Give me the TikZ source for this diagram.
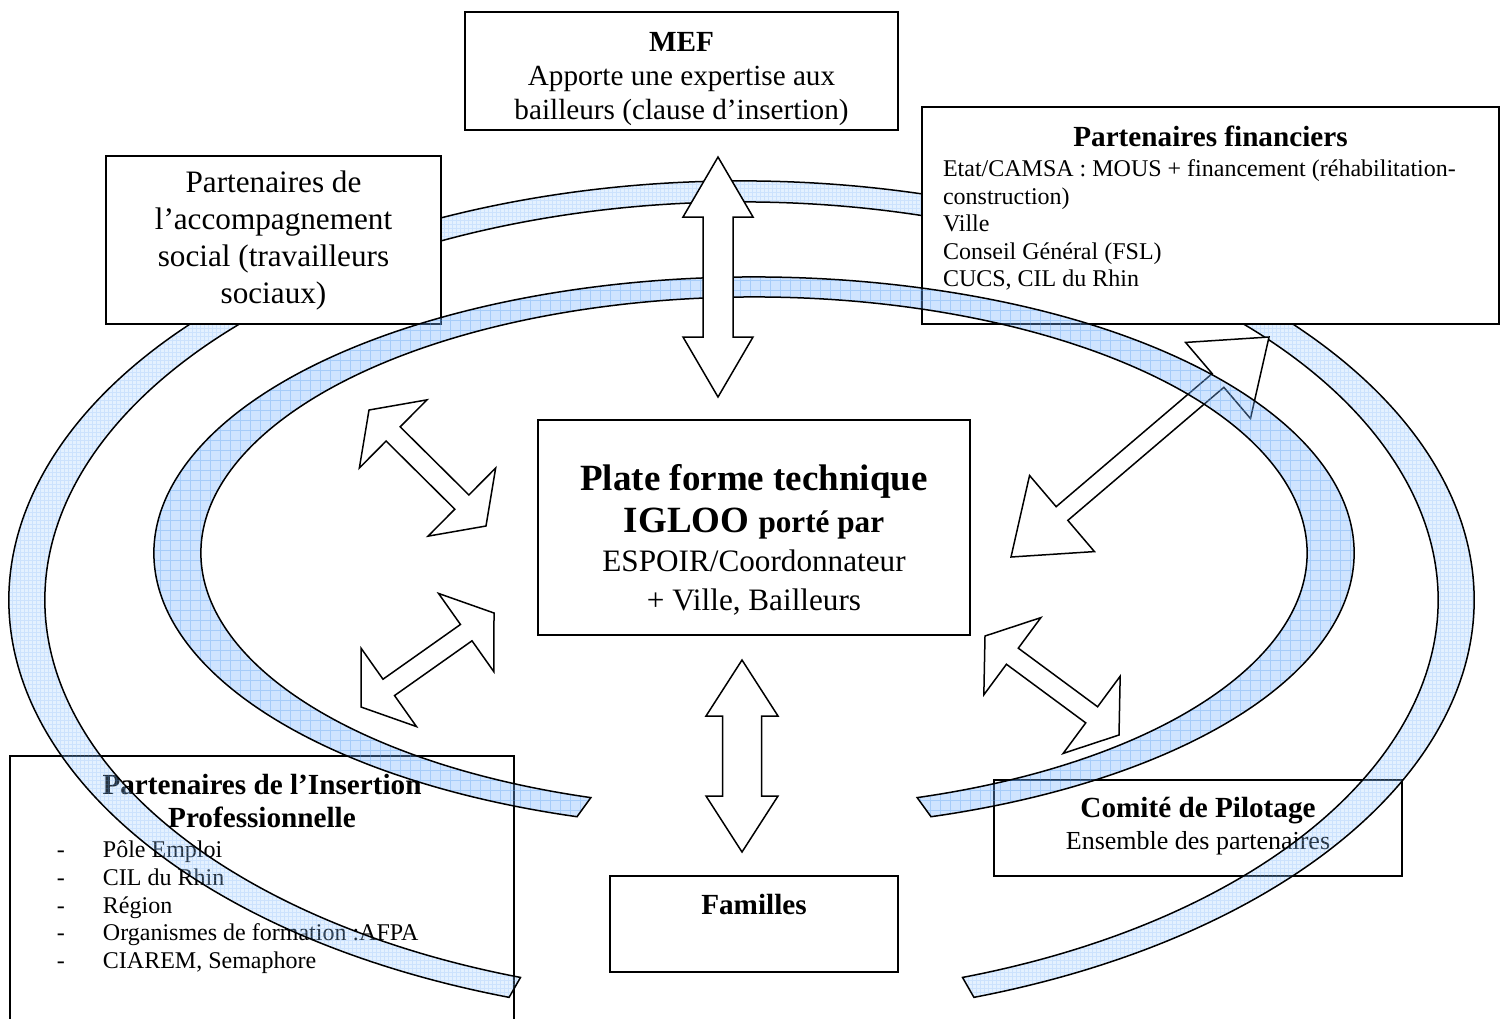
\documentclass[tikz,border=0pt]{standalone}
\usepackage{fontspec}
\setmainfont{Liberation Serif}
\usetikzlibrary{calc}
\definecolor{ringblue}{RGB}{120,180,255}
\definecolor{ringgrid}{RGB}{90,160,240}
\definecolor{ringpale}{RGB}{150,200,255}
\definecolor{ringpalegrid}{RGB}{110,170,245}
\tikzstyle{textbox} = [rectangle, draw, line width=0.9pt, fill=white, inner sep=0pt]
\tikzstyle{blockarrow} = [draw, line width=0.75pt, fill=white, line join=miter]
\tikzstyle{ringline} = [draw, line width=0.75pt]
\tikzstyle{innerfill} = [fill=ringblue, fill opacity=0.35]
\tikzstyle{innergrid} = [draw=ringgrid, draw opacity=0.35, line width=0.3pt]
\tikzstyle{outerfill} = [fill=ringpale, fill opacity=0.25]
\tikzstyle{outergrid} = [draw=ringpalegrid, draw opacity=0.2, line width=0.2pt]
% ring band: kind, centre, outer radii, inner radii, end angles, grid step
\newcommand{\ringband}[9]{%
  \fill[#1fill] (#2) ++(#7:#3 and #4) arc[start angle=#7, end angle=#8, x radius=#3, y radius=#4]
    -- ($(#2)+(#8:#5 and #6)$) arc[start angle=#8, end angle=#7, x radius=#5, y radius=#6] -- cycle;
  \begin{scope}
    \clip (#2) ++(#7:#3 and #4) arc[start angle=#7, end angle=#8, x radius=#3, y radius=#4]
      -- ($(#2)+(#8:#5 and #6)$) arc[start angle=#8, end angle=#7, x radius=#5, y radius=#6] -- cycle;
    \draw[#1grid, step=#9] (0,0) grid (1503,1018);
  \end{scope}
  \path[ringline] (#2) ++(#7:#3 and #4) arc[start angle=#7, end angle=#8, x radius=#3, y radius=#4]
    -- ($(#2)+(#8:#5 and #6)$) arc[start angle=#8, end angle=#7, x radius=#5, y radius=#6] -- cycle;}
% two-way block arrow: ends, head length, head half width, shaft half width
\newcommand{\twoway}[5]{%
  \coordinate (hA) at ($(#1)!#3!(#2)$);
  \coordinate (hB) at ($(#2)!#3!(#1)$);
  \draw[blockarrow] (#1) -- ($(hA)!#4!90:(#2)$) -- ($(hA)!#5!90:(#2)$) -- ($(hB)!#5!-90:(#1)$)
    -- ($(hB)!#4!-90:(#1)$) -- (#2) -- ($(hB)!#4!90:(#1)$) -- ($(hB)!#5!90:(#1)$)
    -- ($(hA)!#5!-90:(#2)$) -- ($(hA)!#4!-90:(#2)$) -- cycle;}
\begin{document}
\begin{tikzpicture}[x=0.5pt, y=-0.5pt]
\clip (0,0) rectangle (1503,1018);
\fill[white] (0,0) rectangle (1503,1018);

% Lower boxes, under the outer ring
\node[textbox, minimum width=252pt, minimum height=142pt] (insertion) at (262,898) {%
\begin{minipage}[c][142pt][t]{252pt}
\vspace*{9.2pt}
{\centering\fontsize{14.6}{16.5}\selectfont\bfseries Partenaires de l’Insertion\\ Professionnelle\par}
\vspace{1.15pt}
\fontsize{12}{13.85}\selectfont
\hspace*{23.5pt}\makebox[23pt][l]{-}Pôle Emploi\\
\hspace*{23.5pt}\makebox[23pt][l]{-}CIL du Rhin\\
\hspace*{23.5pt}\makebox[23pt][l]{-}Région\\
\hspace*{23.5pt}\makebox[23pt][l]{-}Organismes de formation :AFPA\\
\hspace*{23.5pt}\makebox[23pt][l]{-}CIAREM, Semaphore
\end{minipage}};

\node[textbox, minimum width=204pt, minimum height=48pt] (comite) at (1198,828) {%
\begin{minipage}[c][48pt][t]{204pt}
\centering
\vspace*{8.7pt}
{\fontsize{14.6}{16}\selectfont\bfseries Comité de Pilotage\par}
\fontsize{13}{16}\selectfont Ensemble des partenaires
\end{minipage}};

% Outer ring
\coordinate (outerc) at (741.5,600);
\ringband{outer}{outerc}{366.25pt}{209.5pt}{348.25pt}{199pt}{251.5}{-71.5}{2pt}

% Upper boxes
\node[textbox, align=center, minimum width=167.5pt, minimum height=84pt, font=\fontsize{15.6}{18.5}\selectfont] (social) at (273.5,240) {Partenaires de\\ l’accompagnement\\ social (travailleurs\\ sociaux)};

\node[textbox, minimum width=216.5pt, minimum height=59pt] (mef) at (681.5,71) {%
\begin{minipage}[c][59pt][t]{216.5pt}
\centering\fontsize{14.6}{17}\selectfont
\vspace*{10.2pt}
\textbf{MEF}\\ Apporte une expertise aux\\ bailleurs (clause d’insertion)
\end{minipage}};

\node[textbox, minimum width=288.5pt, minimum height=108.5pt] (financ) at (1210.5,215.5) {%
\begin{minipage}[c][108.5pt][t]{267.5pt}
\vspace*{9.7pt}
{\centering\fontsize{14.6}{17}\selectfont\bfseries Partenaires financiers\par}
\vspace{1.25pt}
\fontsize{12}{13.75}\selectfont
Etat/CAMSA : MOUS + financement (réhabilitation-\\
construction)\\
Ville\\
Conseil Général (FSL)\\
CUCS, CIL du Rhin
\end{minipage}};

% Arrow towards the funders, under the inner ring
\coordinate (finA) at (1011,557);
\coordinate (finB) at (1269,337);
\twoway{finA}{finB}{33.5pt}{25pt}{4.5pt}

% Inner ring
\coordinate (innerc) at (754,553);
\ringband{inner}{innerc}{300pt}{138pt}{276.5pt}{128pt}{252.84}{-72.84}{5pt}

% Platform and families
\node[textbox, minimum width=216pt, minimum height=107.5pt] (plateforme) at (754,527.5) {%
\begin{minipage}[c][107.5pt][t]{216pt}
\centering
\vspace*{22.3pt}
{\fontsize{18.5}{21}\selectfont\bfseries Plate forme technique\\ IGLOO {\fontsize{15.6}{21}\selectfont porté par}\par}
\fontsize{15.6}{19.5}\selectfont ESPOIR/Coordonnateur\\ + Ville, Bailleurs
\end{minipage}};

\node[textbox, minimum width=144pt, minimum height=48pt] (familles) at (754,924) {%
\begin{minipage}[c][48pt][t]{144pt}
\centering
\vspace*{9.2pt}
\fontsize{14.6}{17}\selectfont\bfseries Familles
\end{minipage}};

% Two-way arrows
\coordinate (mefA) at (718,157);
\coordinate (mefB) at (718,397);
\twoway{mefA}{mefB}{30pt}{17.5pt}{7.5pt}
\coordinate (famA) at (742,660);
\coordinate (famB) at (742,852);
\twoway{famA}{famB}{28pt}{18pt}{9.75pt}
\coordinate (socA) at (369,410);
\coordinate (socB) at (486,526);
\twoway{socA}{socB}{17pt}{24pt}{5pt}
\coordinate (insA) at (361,707);
\coordinate (insB) at (494,613);
\twoway{insA}{insB}{17pt}{24pt}{5pt}
\coordinate (comA) at (985,636);
\coordinate (comB) at (1119,735);
\twoway{comA}{comB}{17pt}{24pt}{5pt}
\end{tikzpicture}
\end{document}
